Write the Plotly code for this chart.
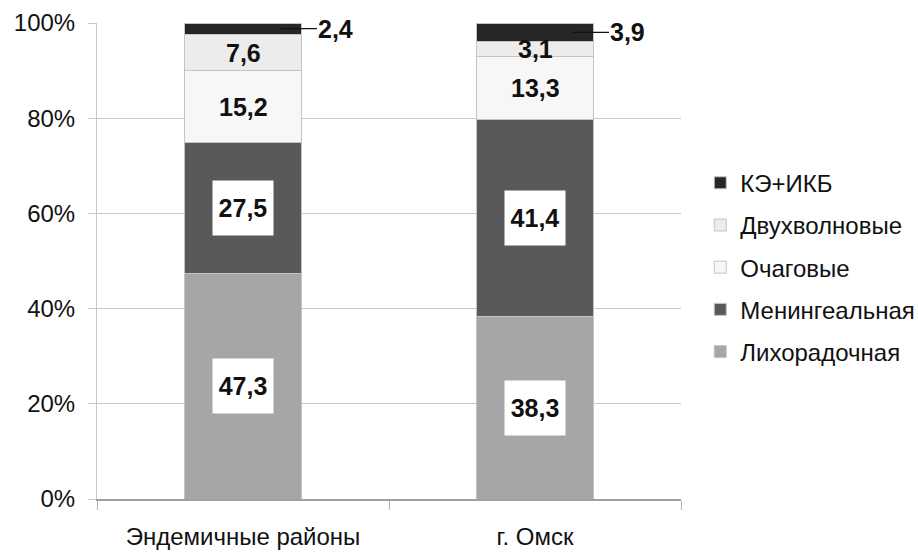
import plotly.graph_objects as go

# Distribution of clinical forms by area, in percent
categories = ["Эндемичные районы", "г. Омск"]
series_names = ["Лихорадочная", "Менингеальная", "Очаговые", "Двухволновые", "КЭ+ИКБ"]
lihoradochnaya = [47.3, 38.3]
meningealnaya = [27.5, 41.4]
ochagovye = [15.2, 13.3]
dvuhvolnovye = [7.6, 3.1]
ke_ikb = [2.4, 3.9]
y_tick_vals = [0, 20, 40, 60, 80, 100]
y_tick_text = ["0%", "20%", "40%", "60%", "80%", "100%"]

series_values = [lihoradochnaya, meningealnaya, ochagovye, dvuhvolnovye, ke_ikb]
colors = ["#a6a6a6", "#595959", "#f7f7f7", "#ececec", "#262626"]
# label style per series: "box" = white box, "plain" = text only, "leader" = outside with line
label_style = ["box", "box", "plain", "plain", "leader"]

FONT = "Liberation Sans, Arial, sans-serif"
TXT = "#111"

fig = go.Figure()
n = len(series_names)
for i, (name, vals) in enumerate(zip(series_names, series_values)):
    fig.add_trace(go.Bar(
        x=categories, y=vals, name=name,
        marker=dict(color=colors[i], line=dict(color="#c4c4c4", width=1)),
        width=0.4, legendgroup=name, legendrank=n - i,
        hoverinfo="skip",
    ))

annotations = []
for ci, cat in enumerate(categories):
    base = 0.0
    for si, vals in enumerate(series_values):
        v = vals[ci]
        mid = base + v / 2
        text = f"<b>{v:.1f}</b>".replace(".", ",")
        style = label_style[si]
        lab_font = dict(family=FONT, size=25, color=TXT)
        if style == "box":
            annotations.append(dict(
                x=ci, y=mid, xref="x", yref="y", text=text,
                showarrow=False, bgcolor="white", width=52, height=46,
                borderpad=4, font=lab_font,
            ))
        elif style == "plain":
            annotations.append(dict(
                x=ci, y=mid, xref="x", yref="y", text=text,
                showarrow=False, font=lab_font,
            ))
        else:
            annotations.append(dict(
                x=ci + 0.13, y=mid, xref="x", yref="y", text=text,
                showarrow=True, arrowhead=0, arrowwidth=1.2, arrowcolor=TXT,
                ax=36, ay=0, xanchor="left", standoff=0, startstandoff=0,
                borderpad=0, font=lab_font,
            ))
        base += v

fig.update_layout(
    barmode="stack",
    width=918, height=553,
    margin=dict(l=97, r=237, t=23, b=54, autoexpand=False),
    paper_bgcolor="white", plot_bgcolor="white",
    font=dict(family=FONT, size=24, color=TXT),
    annotations=annotations,
    showlegend=True,
    legend=dict(
        x=1.033, xanchor="left", y=0.487, yanchor="middle",
        traceorder="grouped", tracegroupgap=8,
        font=dict(family=FONT, size=24, color=TXT),
        itemwidth=30,
    ),
    xaxis=dict(
        type="category", showgrid=False, showline=True, linecolor="#a0a0a0",
        linewidth=1.5, ticks="outside", tickson="boundaries", ticklen=9,
        tickcolor="#b0b0b0", ticklabelstandoff=15,
        tickfont=dict(family=FONT, size=24, color=TXT),
    ),
    yaxis=dict(
        range=[0, 100], tickvals=y_tick_vals, ticktext=y_tick_text,
        showgrid=True, gridcolor="#c8c8c8", gridwidth=1,
        showline=True, linecolor="#c8c8c8", zeroline=False,
        ticks="outside", ticklen=8, tickcolor="#c8c8c8",
        ticklabelstandoff=8,
        tickfont=dict(family=FONT, size=24, color=TXT),
    ),
)

fig.write_html("out.html")
